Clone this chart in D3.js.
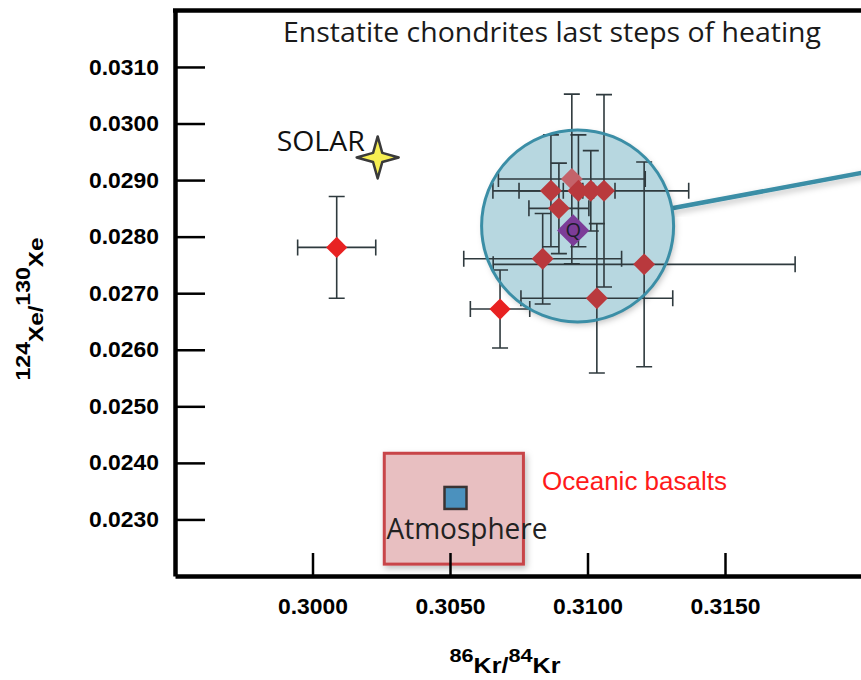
<!DOCTYPE html>
<html>
<head>
<meta charset="utf-8">
<script src="https://cdn.jsdelivr.net/npm/d3@7"></script>
<style>
body { margin: 0; background: #fff; }
</style>
</head>
<body>
<div id="chart"></div>
<script>
var width = 861;
var height = 680;

// enstatite chondrite steps: 86Kr/84Kr (x) and 124Xe/130Xe (y), with 1 sigma bars
var pointX    = [0.30088, 0.30682, 0.30943, 0.30867, 0.30967, 0.31012, 0.31060, 0.30896, 0.30837, 0.31206, 0.31034];
var pointY    = [0.02781, 0.02672, 0.02902, 0.02881, 0.02881, 0.02881, 0.02881, 0.02850, 0.02761, 0.02751, 0.02691];
var pointXErr = [0.00142, 0.00108, 0.00267, 0.00116, 0.00055, 0.00356, 0.00040, 0.00109, 0.00287, 0.00549, 0.00276];
var pointYErr = [0.00090, 0.00069, 0.00150, 0.00099, 0.00099, 0.00071, 0.00170, 0.00080, 0.00080, 0.00181, 0.00132];
var pointKind = ["out", "out", "faded", "in", "in", "in", "in", "in", "in", "in", "in"];

// reference compositions
var qPoint = [0.30948, 0.02811];
var solarPoint = [0.30237, 0.02940];
var atmPoint = [0.30520, 0.02338];
var basaltX = [0.30261, 0.30767];
var basaltY = [0.02221, 0.02417];
var zoomCenter = [0.30964, 0.02819];
var zoomPointer = [0.32100, 0.02922];

var xTicks = [0.300, 0.305, 0.310, 0.315];
var yTicks = [0.023, 0.024, 0.025, 0.026, 0.027, 0.028, 0.029, 0.030, 0.031];

var kindColor = { out: "#e82222", in: "#b9393d", faded: "#c4636a" };

var svg = d3.select("#chart").append("svg")
    .attr("width", width)
    .attr("height", height);

var defs = svg.append("defs");
var shadow = defs.append("filter").attr("id", "shadow")
    .attr("x", "-20%").attr("y", "-20%").attr("width", "140%").attr("height", "140%");
shadow.append("feDropShadow")
    .attr("dx", 2).attr("dy", 3).attr("stdDeviation", 3)
    .attr("flood-color", "#000").attr("flood-opacity", 0.25);

var x = d3.scaleLinear().domain([0.295, 0.320]).range([175, 862.5]);
var y = d3.scaleLinear().domain([0.022, 0.032]).range([576, 10.4]);

// oceanic basalts box + atmosphere
svg.append("rect")
    .attr("x", x(basaltX[0]))
    .attr("y", y(basaltY[1]))
    .attr("width", x(basaltX[1]) - x(basaltX[0]))
    .attr("height", y(basaltY[0]) - y(basaltY[1]))
    .attr("fill", "#e8bfc1")
    .attr("stroke", "#c84549")
    .attr("stroke-width", 3)
    .attr("filter", "url(#shadow)");

svg.append("rect")
    .attr("x", x(atmPoint[0]) - 11)
    .attr("y", y(atmPoint[1]) - 11)
    .attr("width", 22)
    .attr("height", 22)
    .attr("fill", "#4b91be")
    .attr("stroke", "#3a3333")
    .attr("stroke-width", 2.5);

svg.append("text")
    .attr("x", x(atmPoint[0]) - 69)
    .attr("y", y(atmPoint[1]) + 41)
    .attr("font-family", "Open Sans")
    .attr("font-size", 29)
    .attr("fill", "#222")
    .attr("textLength", 161)
    .attr("lengthAdjust", "spacingAndGlyphs")
    .text("Atmosphere");

svg.append("text")
    .attr("x", 542)
    .attr("y", 490)
    .attr("font-family", "Liberation Sans, Arial")
    .attr("font-size", 26)
    .attr("fill", "#ff1a1a")
    .text("Oceanic basalts");

// zoom circle (fill behind the points)
var cx = x(zoomCenter[0]), cy = y(zoomCenter[1]), cr = 96;
var ang = Math.atan2(y(zoomPointer[1]) - cy, x(zoomPointer[0]) - cx);

svg.append("line")
    .attr("x1", cx + cr * Math.cos(ang))
    .attr("y1", cy + cr * Math.sin(ang))
    .attr("x2", x(zoomPointer[0]))
    .attr("y2", y(zoomPointer[1]))
    .attr("stroke", "#3b8ea6")
    .attr("stroke-width", 4.5)
    .attr("filter", "url(#shadow)");

svg.append("circle")
    .attr("cx", cx).attr("cy", cy).attr("r", cr)
    .attr("fill", "#b7d7e0")
    .attr("filter", "url(#shadow)");

// error bars
var pts = pointX.map(function (d, i) {
    return { x: d, y: pointY[i], ex: pointXErr[i], ey: pointYErr[i], kind: pointKind[i] };
});

var bars = svg.append("g")
    .attr("stroke", "#2f3a3e")
    .attr("stroke-width", 1.6)
    .attr("fill", "none");

pts.forEach(function (p) {
    var px = x(p.x), py = y(p.y);
    var x0 = x(p.x - p.ex), x1 = x(p.x + p.ex);
    var y0 = y(p.y - p.ey), y1 = y(p.y + p.ey);
    var cap = 8;
    bars.append("path").attr("d",
        "M" + x0 + "," + py + "H" + x1 +
        "M" + x0 + "," + (py - cap) + "V" + (py + cap) +
        "M" + x1 + "," + (py - cap) + "V" + (py + cap) +
        "M" + px + "," + y0 + "V" + y1 +
        "M" + (px - cap) + "," + y0 + "H" + (px + cap) +
        "M" + (px - cap) + "," + y1 + "H" + (px + cap));
});

// diamonds
var diamond = d3.symbol().type(d3.symbolSquare);
svg.append("g").selectAll("path.pt")
    .data(pts)
    .join("path")
    .attr("class", "pt")
    .attr("d", function (d) { return d.kind === "out" ? diamond.size(225)() : diamond.size(240)(); })
    .attr("transform", function (d) { return "translate(" + x(d.x) + "," + y(d.y) + ") rotate(45)"; })
    .attr("fill", function (d) { return kindColor[d.kind]; });

// Q component
svg.append("path")
    .attr("d", diamond.size(520)())
    .attr("transform", "translate(" + x(qPoint[0]) + "," + y(qPoint[1]) + ") rotate(45)")
    .attr("fill", "#7c3c98");
svg.append("text")
    .attr("x", x(qPoint[0]))
    .attr("y", y(qPoint[1]) + 7)
    .attr("text-anchor", "middle")
    .attr("font-family", "Open Sans")
    .attr("font-size", 20)
    .attr("fill", "#1c1c2c")
    .text("Q");

svg.append("circle")
    .attr("cx", cx).attr("cy", cy).attr("r", cr)
    .attr("fill", "none")
    .attr("stroke", "#3b8ea6")
    .attr("stroke-width", 3);

// solar star
var sx = x(solarPoint[0]), sy = y(solarPoint[1]);
var star = [];
for (var k = 0; k < 8; k++) {
    var r = k % 2 === 0 ? 21 : 6.5;
    var a = k * Math.PI / 4 - Math.PI / 2;
    star.push([sx + r * Math.cos(a), sy + r * Math.sin(a)]);
}
svg.append("path")
    .attr("d", "M" + star.join("L") + "Z")
    .attr("fill", "#f6ee52")
    .attr("stroke", "#3a3a3a")
    .attr("stroke-width", 2.5)
    .attr("stroke-linejoin", "round");

svg.append("text")
    .attr("x", sx - 13)
    .attr("y", sy - 6)
    .attr("text-anchor", "end")
    .attr("font-family", "Open Sans")
    .attr("font-size", 28)
    .attr("fill", "#111")
    .attr("textLength", 88)
    .attr("lengthAdjust", "spacingAndGlyphs")
    .text("SOLAR");

// title
svg.append("text")
    .attr("x", 283)
    .attr("y", 42)
    .attr("font-family", "Open Sans")
    .attr("font-size", 28)
    .attr("fill", "#1a1a1a")
    .attr("textLength", 538)
    .attr("lengthAdjust", "spacingAndGlyphs")
    .text("Enstatite chondrites last steps of heating");

// axes
var yAxis = svg.append("g")
    .attr("transform", "translate(" + x(0.295) + ",0)")
    .call(d3.axisLeft(y).tickValues(yTicks).tickSize(-30).tickSizeOuter(0).tickPadding(16)
        .tickFormat(d3.format(".4f")));

var xAxis = svg.append("g")
    .attr("transform", "translate(0," + y(0.022) + ")")
    .call(d3.axisBottom(x).tickValues(xTicks).tickSize(-23).tickSizeOuter(0).tickPadding(22)
        .tickFormat(d3.format(".4f")));

[xAxis, yAxis].forEach(function (g) {
    g.select(".domain").attr("stroke", "#000").attr("stroke-width", 4.5);
    g.selectAll(".tick line").attr("stroke", "#000").attr("stroke-width", 2.5);
    g.selectAll(".tick text")
        .attr("fill", "#000")
        .attr("font-family", "Liberation Sans, Arial")
        .attr("font-weight", "bold")
        .attr("font-size", 22)
        .attr("textLength", 70)
        .attr("lengthAdjust", "spacingAndGlyphs");
});

svg.append("line")
    .attr("x1", x(0.295) - 2).attr("x2", width)
    .attr("y1", y(0.032)).attr("y2", y(0.032))
    .attr("stroke", "#000").attr("stroke-width", 4.5);

// axis titles
var xt = svg.append("text")
    .attr("x", 505)
    .attr("y", 662)
    .attr("text-anchor", "middle")
    .attr("font-family", "Liberation Sans, Arial")
    .attr("font-weight", "bold")
    .attr("textLength", 111)
    .attr("lengthAdjust", "spacingAndGlyphs");
xt.append("tspan").attr("font-size", 19).text("86");
xt.append("tspan").attr("font-size", 22).attr("dy", 11).text("Kr/");
xt.append("tspan").attr("font-size", 19).attr("dy", -11).text("84");
xt.append("tspan").attr("font-size", 22).attr("dy", 11).text("Kr");

var yt = svg.append("text")
    .attr("transform", "translate(30,309) rotate(-90)")
    .attr("text-anchor", "middle")
    .attr("font-family", "Liberation Sans, Arial")
    .attr("font-weight", "bold")
    .attr("textLength", 143)
    .attr("lengthAdjust", "spacingAndGlyphs");
yt.append("tspan").attr("font-size", 20).text("124");
yt.append("tspan").attr("font-size", 21).attr("dy", 13).text("Xe/");
yt.append("tspan").attr("font-size", 20).attr("dy", -13).text("130");
yt.append("tspan").attr("font-size", 21).attr("dy", 13).text("Xe");
</script>
</body>
</html>
